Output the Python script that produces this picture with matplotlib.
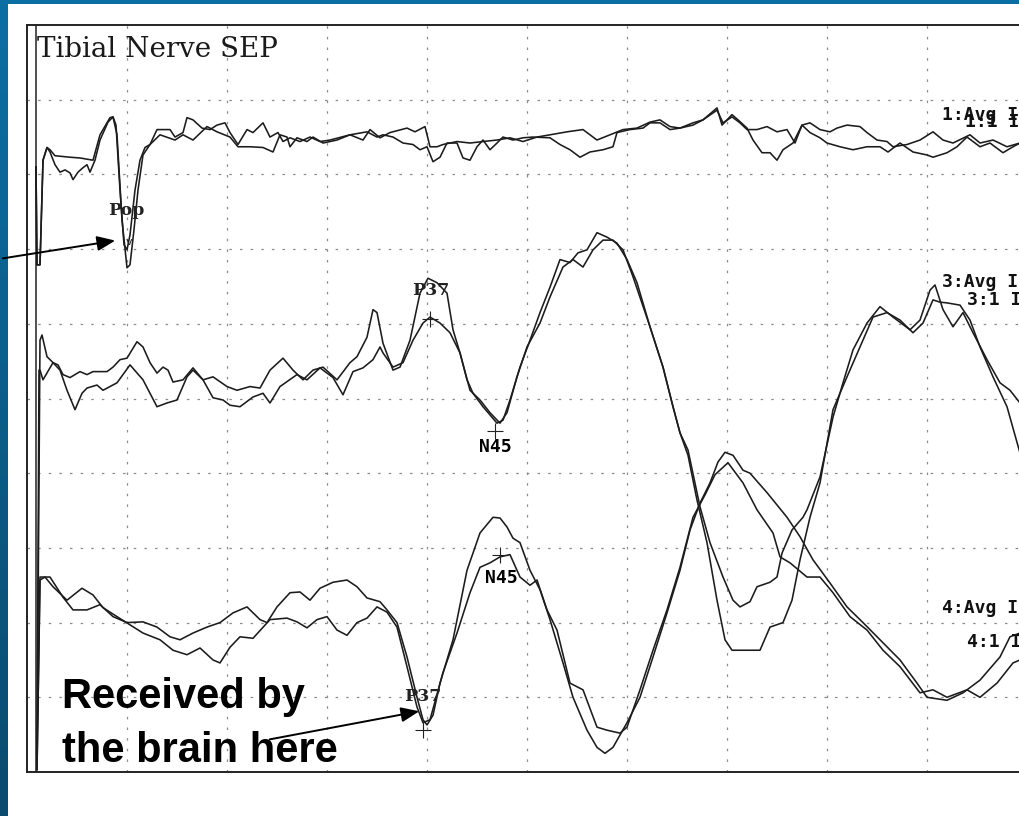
import numpy as np
import matplotlib
matplotlib.use("Agg")
import matplotlib.pyplot as plt
from matplotlib.patches import Rectangle

# time in ms (10 ms per division), amplitude in screen units (10 per division)
ch1a_t = [0.9, 1.0, 1.3, 1.6, 2.0, 2.3, 2.8, 4.3, 5.3, 6.6, 7.3, 8.3, 8.6, 8.9, 9.3, 9.7, 10.0, 10.3, 10.8, 11.3,
          11.8, 12.3, 13.0, 14.3, 14.8, 15.6, 16.0, 16.6, 17.5, 18.3, 19.0, 19.8, 20.3, 21.1, 22.0, 22.6, 23.6, 24.3,
          25.1, 25.6, 26.3, 27.3, 28.3, 29.3, 30.3, 32.3, 33.6, 34.3, 35.3, 36.3, 38.0, 38.8, 39.8, 40.3, 41.0, 41.6,
          43.0, 44.3, 45.6, 47.0, 48.3, 49.6, 51.0, 52.3, 54.0, 55.6, 57.0, 58.3, 59.6, 61.0, 62.3, 63.3, 64.3, 65.3,
          66.6, 67.6, 69.0, 69.5, 70.5, 71.1, 72.0, 72.6, 73.5, 74.3, 75.0, 75.6, 76.6, 77.5, 78.3, 79.3, 80.0, 81.3,
          82.6, 84.0, 85.3, 86.1, 87.3, 88.6, 90.0, 90.6, 92.0, 93.0, 94.0, 95.3, 96.3, 97.6, 98.6, 99.3]
ch1a_v = [81.0, 67.9, 67.9, 81.9, 83.6, 83.3, 82.5, 82.3, 82.2, 81.9, 85.3, 87.6, 87.7, 86.6, 77.9, 70.6, 69.9, 71.9,
          77.9, 81.9, 83.6, 84.0, 86.0, 86.0, 85.0, 85.6, 87.6, 87.3, 86.2, 86.0, 86.6, 86.9, 85.6, 84.0, 86.0, 85.6,
          86.9, 85.0, 85.6, 84.4, 84.9, 84.4, 85.0, 84.4, 84.6, 85.3, 84.6, 86.0, 84.9, 85.6, 86.2, 85.7, 86.4, 83.7,
          83.7, 84.0, 84.4, 84.2, 84.4, 84.6, 84.9, 84.4, 85.0, 85.3, 85.7, 86.0, 84.6, 85.3, 86.0, 86.2, 87.0, 87.3,
          86.4, 86.2, 86.9, 87.3, 88.9, 86.6, 88.0, 87.3, 86.2, 84.6, 82.9, 82.9, 81.9, 83.3, 84.2, 86.6, 85.6, 84.9,
          84.2, 83.7, 83.3, 83.7, 83.7, 83.0, 84.2, 83.0, 82.6, 82.3, 82.9, 83.7, 85.0, 83.7, 84.2, 82.9, 83.7, 84.2]

ch1b_t = [0.9, 1.0, 1.3, 1.6, 2.0, 2.3, 2.8, 3.3, 3.8, 4.3, 4.6, 5.1, 5.6, 6.0, 6.3, 6.8, 7.3, 8.1, 8.6, 9.0, 9.5,
          10.0, 10.3, 10.7, 11.1, 11.6, 12.3, 13.3, 14.8, 15.6, 16.6, 18.0, 19.0, 20.3, 21.1, 22.3, 23.6, 24.6, 25.3,
          26.0, 26.3, 27.0, 28.0, 28.6, 29.6, 31.0, 32.3, 34.0, 35.0, 35.6, 36.6, 37.6, 38.6, 39.3, 40.0, 40.6, 41.3,
          42.0, 43.0, 43.6, 44.3, 45.0, 45.6, 46.3, 47.0, 47.6, 48.6, 49.6, 50.6, 52.3, 53.3, 54.3, 55.3, 56.3, 57.6,
          58.6, 59.0, 60.3, 61.6, 62.3, 63.3, 64.3, 65.3, 66.6, 67.6, 69.0, 69.6, 70.5, 71.3, 72.0, 73.0, 74.0, 75.0,
          76.0, 76.8, 77.5, 78.3, 79.3, 80.3, 81.0, 82.0, 83.3, 84.0, 85.0, 86.0, 86.6, 88.0, 89.3, 90.6, 91.6, 92.6,
          94.3, 95.3, 96.6, 98.0, 99.3]
ch1b_v = [81.0, 67.9, 67.9, 81.9, 83.6, 83.0, 81.3, 80.3, 80.6, 80.2, 79.3, 80.3, 80.9, 81.3, 80.3, 81.9, 84.6, 87.0,
          87.7, 85.3, 73.9, 67.5, 67.9, 72.6, 77.9, 82.6, 84.0, 85.3, 84.6, 85.3, 84.6, 86.4, 85.7, 85.0, 83.7, 83.7,
          83.6, 83.0, 85.3, 85.0, 83.7, 84.9, 84.4, 85.0, 84.2, 84.6, 85.3, 85.7, 85.0, 85.3, 85.0, 84.2, 84.0, 83.3,
          83.7, 81.7, 82.3, 84.2, 84.2, 82.2, 81.9, 83.7, 84.6, 83.3, 84.2, 85.0, 84.6, 84.9, 85.0, 84.9, 84.0, 83.3,
          82.3, 83.0, 83.3, 83.7, 85.6, 86.0, 86.2, 86.9, 86.9, 86.0, 86.2, 86.6, 87.3, 88.6, 86.9, 87.7, 86.9, 86.0,
          86.0, 86.4, 85.7, 86.0, 84.2, 86.6, 86.9, 86.0, 85.7, 86.2, 86.6, 86.4, 85.6, 84.6, 84.4, 83.7, 84.0, 84.6,
          85.7, 84.6, 84.2, 85.3, 84.2, 84.6, 83.7, 84.2]

ch3a_t = [1.0, 1.3, 1.5, 2.0, 2.6, 3.1, 3.6, 4.3, 5.3, 6.0, 6.6, 8.0, 8.6, 9.3, 10.0, 11.0, 11.6, 12.3, 13.0, 13.6,
          14.1, 14.6, 15.6, 16.6, 17.6, 18.6, 20.0, 21.0, 22.3, 23.3, 24.3, 25.6, 26.6, 27.6, 28.6, 29.6, 31.0, 32.3,
          33.0, 34.0, 34.6, 35.0, 35.6, 36.6, 37.3, 38.3, 39.3, 40.1, 41.0, 42.0, 42.6, 43.3, 44.0, 44.6, 45.6, 46.3,
          47.0, 47.6, 48.3, 49.3, 50.3, 51.3, 52.3, 53.3, 54.3, 55.1, 56.0, 57.0, 58.0, 59.0, 60.0, 61.0, 62.3, 63.6,
          64.6, 65.3, 66.1, 67.0, 68.0, 69.0, 69.8, 70.5, 73.3, 74.3, 75.6, 76.5, 77.3, 78.3, 79.3, 80.6, 82.0, 83.3,
          84.6, 86.0, 87.3, 88.6, 89.6, 90.6, 91.3, 92.0, 93.3, 94.3, 95.3, 96.6, 98.0, 99.3]
ch3a_v = [1.6, 57.8, 58.5, 55.6, 54.8, 54.5, 53.2, 52.8, 53.6, 53.2, 53.6, 53.6, 54.2, 55.2, 55.4, 57.6, 56.9, 54.8,
          53.4, 54.2, 53.8, 52.2, 52.5, 54.1, 52.5, 52.9, 51.6, 51.1, 51.6, 51.4, 53.8, 55.4, 53.8, 52.5, 53.8, 54.2,
          52.5, 54.8, 55.6, 58.2, 61.9, 61.5, 57.4, 53.8, 54.2, 57.8, 64.1, 66.1, 65.5, 64.1, 59.2, 56.1, 52.5, 50.7,
          48.9, 47.8, 46.7, 47.1, 49.8, 54.2, 57.8, 61.5, 64.9, 68.6, 68.2, 69.5, 69.9, 72.2, 71.6, 70.8, 68.6, 65.5,
          59.6, 54.2, 48.9, 45.4, 42.4, 36.4, 30.7, 23.0, 17.7, 16.3, 16.3, 19.4, 20.0, 23.0, 28.4, 34.1, 38.7, 48.5,
          52.9, 56.9, 60.9, 61.5, 60.5, 58.8, 60.1, 63.2, 62.9, 62.8, 62.5, 60.5, 56.9, 52.9, 48.9, 42.7]

ch3b_t = [1.0, 1.2, 1.3, 1.6, 2.6, 3.3, 4.0, 4.8, 5.5, 6.0, 7.0, 7.6, 9.0, 10.3, 11.6, 13.0, 14.0, 15.0, 16.0, 16.6,
          17.6, 18.6, 19.6, 20.3, 21.3, 22.6, 23.6, 24.3, 25.3, 27.0, 28.0, 29.3, 30.6, 31.6, 32.6, 33.6, 34.6, 35.3,
          35.6, 36.6, 37.6, 38.6, 39.6, 40.3, 41.3, 42.3, 43.3, 44.3, 45.3, 46.3, 47.3, 48.0, 49.0, 50.0, 51.3, 52.3,
          53.6, 54.6, 55.6, 56.6, 57.6, 58.6, 59.6, 60.6, 62.3, 63.6, 64.6, 65.3, 66.1, 67.3, 68.3, 69.6, 70.6, 71.3,
          72.3, 73.0, 74.3, 75.0, 75.5, 76.5, 77.6, 78.0, 79.3, 80.6, 81.6, 82.6, 84.0, 85.3, 86.6, 88.3, 89.3, 90.3,
          90.8, 91.6, 92.6, 93.6, 94.6, 96.0, 97.3, 98.3, 99.3]
ch3b_v = [1.6, 53.8, 53.8, 52.5, 54.8, 53.8, 51.1, 48.5, 50.7, 51.4, 51.8, 51.1, 52.1, 54.5, 52.5, 48.9, 49.4, 49.8,
          52.9, 53.8, 52.5, 50.1, 49.8, 49.1, 48.9, 50.2, 50.7, 49.4, 51.6, 53.2, 52.5, 54.1, 52.8, 50.5, 53.6, 54.1,
          55.2, 56.9, 56.1, 54.2, 54.8, 57.8, 60.1, 60.9, 60.1, 58.8, 56.1, 51.1, 49.8, 48.1, 46.7, 48.1, 52.9, 56.9,
          60.1, 63.6, 67.6, 68.6, 67.6, 69.9, 71.2, 71.2, 69.9, 66.3, 59.6, 54.2, 48.9, 45.4, 43.1, 35.5, 30.7, 26.1,
          23.0, 22.1, 22.8, 24.8, 25.4, 26.1, 29.3, 32.4, 34.1, 35.1, 39.5, 47.5, 52.1, 56.5, 60.1, 62.3, 60.9, 59.2,
          60.5, 64.5, 65.2, 61.9, 59.6, 61.5, 58.8, 55.2, 52.1, 51.1, 49.4]

ch4a_t = [1.0, 1.3, 2.3, 3.6, 4.6, 6.0, 7.3, 8.6, 10.0, 11.6, 13.0, 14.3, 15.3, 16.6, 18.0, 19.3, 20.6, 22.0, 23.3,
          24.0, 25.0, 26.3, 27.3, 28.3, 29.3, 30.6, 32.0, 33.0, 34.0, 35.3, 36.0, 37.0, 38.0, 39.0, 39.6, 40.0, 40.6,
          41.3, 42.6, 44.0, 45.3, 46.6, 47.3, 48.0, 48.6, 49.3, 50.3, 51.3, 52.3, 53.6, 54.6, 56.0, 57.0, 57.8, 58.6,
          60.0, 61.3, 62.6, 64.0, 65.3, 66.3, 67.3, 68.3, 69.1, 69.8, 70.6, 71.6, 72.3, 74.0, 76.0, 77.3, 78.6, 80.3,
          82.0, 83.6, 85.6, 87.3, 89.0, 90.0, 92.0, 93.6, 95.3, 97.3, 98.3, 99.3]
ch4a_v = [0.3, 26.1, 26.1, 23.4, 21.7, 21.7, 22.4, 20.8, 20.0, 20.1, 19.4, 18.1, 17.7, 18.6, 19.4, 20.0, 21.3, 22.1,
          20.4, 20.0, 22.1, 24.0, 24.1, 23.0, 24.6, 25.4, 25.7, 24.8, 23.3, 22.8, 21.7, 20.0, 15.4, 10.0, 7.0, 6.3,
          7.6, 11.9, 17.7, 27.0, 32.0, 34.1, 34.0, 32.8, 31.3, 30.7, 27.0, 24.4, 20.4, 14.6, 10.0, 5.6, 3.3, 2.5, 3.3,
          6.6, 10.0, 15.4, 21.3, 27.0, 32.4, 36.0, 38.7, 41.5, 42.8, 42.4, 40.4, 40.0, 37.4, 34.1, 31.5, 28.4, 25.3,
          22.1, 20.0, 17.3, 15.0, 11.9, 10.0, 9.6, 10.6, 12.3, 15.4, 18.1, 18.6]

ch4b_t = [1.0, 1.3, 1.8, 2.6, 4.0, 5.5, 6.6, 7.6, 9.0, 10.3, 11.6, 13.3, 14.6, 16.0, 17.3, 18.6, 19.3, 20.3, 21.3,
          22.6, 24.3, 26.0, 27.0, 28.0, 29.0, 30.0, 31.0, 32.0, 33.0, 34.0, 35.0, 36.0, 37.0, 38.0, 39.0, 39.6, 40.3,
          41.6, 43.0, 44.3, 45.3, 46.3, 47.3, 48.3, 49.3, 50.3, 51.0, 52.0, 53.0, 54.3, 55.6, 57.0, 58.0, 59.3, 60.0,
          61.3, 62.6, 64.0, 65.3, 66.6, 67.8, 68.8, 70.1, 71.6, 73.0, 74.6, 75.3, 76.3, 78.0, 79.3, 80.6, 82.3, 84.0,
          85.6, 87.3, 89.3, 90.6, 92.0, 94.0, 95.3, 97.0, 98.6, 99.3]
ch4b_v = [0.3, 25.7, 26.1, 24.8, 23.0, 24.6, 23.7, 22.0, 20.8, 19.7, 18.6, 17.7, 16.3, 15.7, 16.6, 15.0, 14.6, 16.7,
          18.1, 17.9, 20.4, 20.6, 20.1, 19.3, 20.4, 20.8, 19.0, 18.3, 20.0, 20.6, 22.1, 21.4, 19.4, 14.1, 8.7, 6.6,
          7.0, 13.3, 18.6, 24.0, 27.4, 28.0, 28.8, 29.1, 26.1, 25.0, 25.7, 21.7, 19.0, 11.9, 11.0, 6.0, 5.6, 5.2, 6.0,
          11.0, 16.3, 21.7, 27.4, 34.1, 37.1, 39.8, 41.4, 38.7, 35.1, 32.0, 28.8, 28.0, 26.1, 26.1, 24.0, 20.8, 19.0,
          16.3, 14.1, 10.6, 11.0, 10.0, 11.0, 10.0, 11.9, 14.6, 15.0]

# peak labels and cursor positions
peak_labels = ["Pop", "P37", "N45", "N45", "P37"]
peak_t = [9.9, 40.4, 46.8, 47.4, 39.6]
peak_v = [75.2, 64.5, 43.5, 26.0, 10.1]
cursor_t = [40.3, 46.8, 47.3, 39.6]
cursor_v = [60.7, 45.7, 29.1, 5.6]

chan_labels = ["1:Avg I", "1:1 I", "3:Avg I", "3:1 I", "4:Avg I", "4:1 I"]
chan_t = [91.5, 93.8, 91.5, 94.0, 91.5, 94.0]
chan_v = [89.2, 88.2, 66.8, 64.4, 23.1, 18.6]

stim_t = 0.9

fig = plt.figure(figsize=(10.2, 8.16), dpi=100)
fig.patch.set_facecolor("white")

# slide background: blue gradient strip on the left, thin band on top
bg = fig.add_axes([0, 0, 1, 1], zorder=-1)
bg.set_xlim(0, 1020)
bg.set_ylim(816, 0)
bg.axis("off")
top_col = np.array([0x0c, 0x6f, 0xa4]) / 255
bot_col = np.array([0x0a, 0x4b, 0x6e]) / 255
grad = np.linspace(0, 1, 256)[:, None, None] * (bot_col - top_col) + top_col
bg.imshow(np.repeat(grad, 2, axis=1), extent=(0, 8, 816, 0), aspect="auto")
bg.add_patch(Rectangle((0, 0), 1020, 4, color=top_col, lw=0))

ax = fig.add_axes([27 / 1020, 44 / 816, 1000 / 1020, 747 / 816])
ax.set_facecolor("white")
ax.set_xlim(0, 100)
ax.set_ylim(0, 100)
ax.set_xticks(np.arange(10, 100, 10))
ax.set_yticks(np.arange(10, 100, 10))
ax.tick_params(length=0, labelbottom=False, labelleft=False)
ax.grid(True, color="#8c8c8c", lw=0.9, linestyle=(0, (2, 6.5)))
for s in ax.spines.values():
    s.set_color("#222222")
    s.set_linewidth(1.4)

ax.axvline(stim_t, color="#333333", lw=1.2)

trace_kw = dict(color="#1c1c1c", lw=1.15)
ax.plot(ch1a_t, ch1a_v, **trace_kw)
ax.plot(ch1b_t, ch1b_v, **trace_kw)
ax.plot(ch3a_t, ch3a_v, **trace_kw)
ax.plot(ch3b_t, ch3b_v, **trace_kw)
ax.plot(ch4a_t, ch4a_v, **trace_kw)
ax.plot(ch4b_t, ch4b_v, **trace_kw)

ax.plot(cursor_t, cursor_v, "+", color="#222222", ms=11, mew=0.8)
ax.text(10.2, 71.0, "v", family="DejaVu Sans", fontsize=8, ha="center", va="center", color="#222222")

ax.text(1.0, 95.7, "Tibial Nerve SEP", family="DejaVu Serif", fontsize=20, color="#1a1a1a", va="baseline")

for lab, t, v in zip(peak_labels, peak_t, peak_v):
    if lab.startswith("N"):
        ax.text(t, v, lab, family="DejaVu Sans Mono", fontweight="bold", fontsize=13, ha="center", va="center")
    else:
        ax.text(t, v, lab, family="DejaVu Serif", fontweight="bold", fontsize=12.5, ha="center", va="center",
                color="#222222")

for lab, t, v in zip(chan_labels, chan_t, chan_v):
    ax.text(t, v, lab, family="DejaVu Sans Mono", fontweight="bold", fontsize=13, va="top", color="#111111",
            clip_on=False)

# arrows pointing to the popliteal and cortical peaks
arrow_kw = dict(arrowstyle="-|>,head_length=1.1,head_width=0.45", color="black", lw=1.4)
ax.annotate("", xy=(9.1, 71.2), xytext=(-2.7, 68.7), arrowprops=arrow_kw, annotation_clip=False)
ax.annotate("", xy=(39.5, 8.2), xytext=(24.0, 4.3), arrowprops=arrow_kw)

ax.text(3.5, 8.6, "Received by", family="Liberation Sans", fontweight="bold", fontsize=30, va="baseline")
ax.text(3.5, 1.3, "the brain here", family="Liberation Sans", fontweight="bold", fontsize=30, va="baseline")

fig.savefig("out.png", dpi=100)
